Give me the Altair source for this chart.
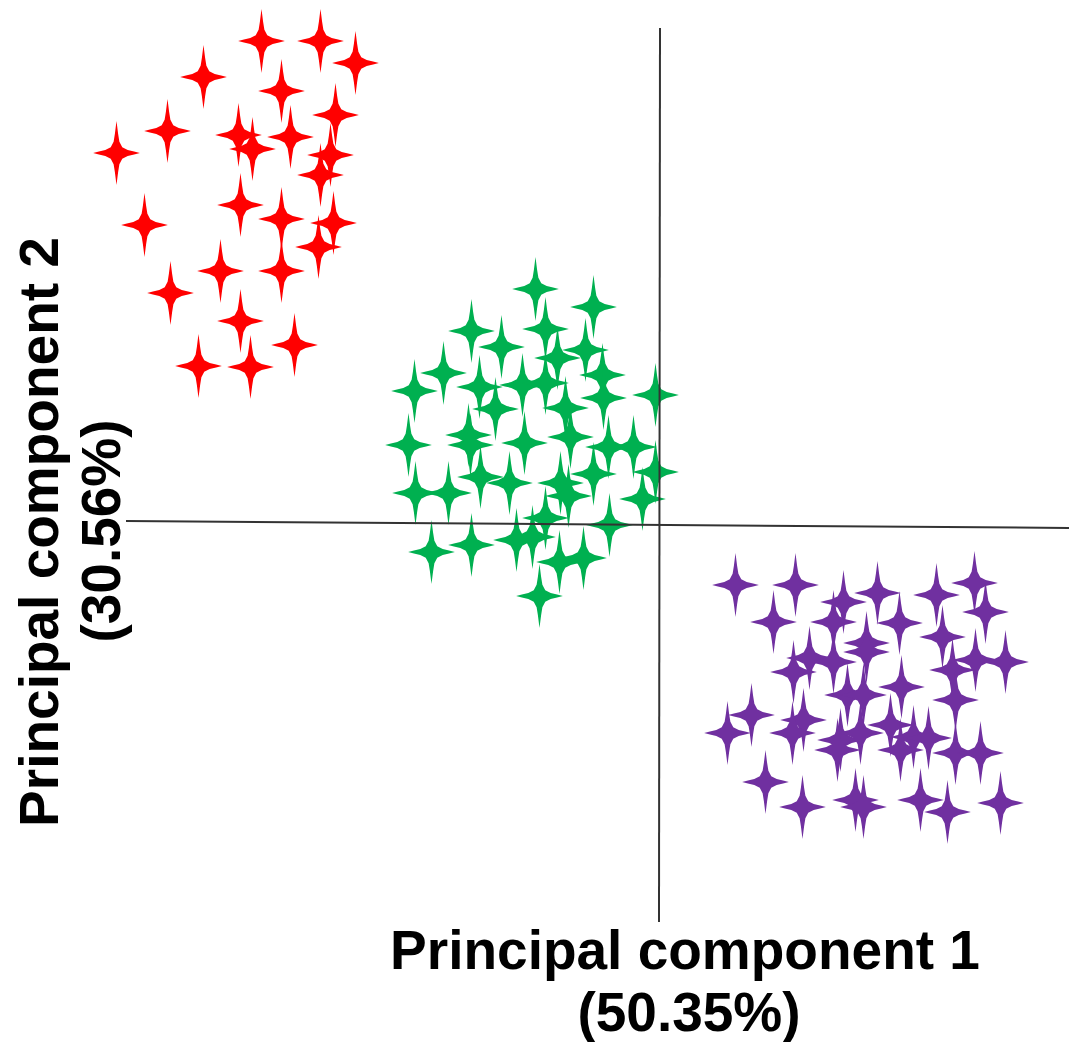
import altair as alt
import pandas as pd

# Principal component scores (1 unit = 100 px)
red_x = [-3.98, -3.39, -3.04, -4.56, -3.78, -3.24, -4.92, -4.21, -4.07, -3.69, -5.43, -3.29, -3.39,
         -4.19, -3.78, -3.26, -5.15, -3.41, -4.39, -3.78, -4.89, -4.19, -3.65, -4.61, -4.09]
red_y = [4.82, 4.82, 4.60, 4.46, 4.32, 4.08, 3.92, 3.88, 3.74, 3.86, 3.70, 3.68, 3.48,
         3.18, 3.04, 3.00, 2.98, 2.76, 2.52, 2.52, 2.30, 2.02, 1.78, 1.57, 1.56]

green_x = [-1.24, -0.66, -1.88, -1.14, -1.58, -1.02, -0.74, -2.16, -0.57, -2.45, -1.80, -1.37, -1.14,
           -0.04, -0.56, -1.64, -0.94, -1.91, -1.89, -1.35, -0.89, -2.51, -0.51, -0.26, -0.04, -0.66,
           -1.79, -1.50, -0.99, -2.44, -2.11, -0.91, -0.17, -1.14, -0.50, -1.43, -1.27, -1.88, -2.28,
           -1.00, -0.76, -1.20]
green_y = [2.34, 2.16, 1.92, 1.94, 1.76, 1.65, 1.73, 1.50, 1.48, 1.32, 1.36, 1.38, 1.40,
           1.28, 1.25, 1.14, 1.15, 0.88, 0.78, 0.80, 0.86, 0.78, 0.76, 0.76, 0.51, 0.49,
           0.46, 0.40, 0.40, 0.30, 0.30, 0.27, 0.24, 0.05, -0.02, -0.17, -0.14, -0.22, -0.29,
           -0.39, -0.35, -0.73]

purple_x = [0.76, 1.36, 1.84, 2.18, 2.77, 3.15, 1.14, 1.74, 2.40, 3.26, 2.83, 2.07, 2.07,
            1.50, 1.74, 1.34, 3.16, 3.46, 2.93, 2.42, 1.88, 2.04, 2.96, 0.92, 1.44, 0.68,
            1.33, 2.31, 2.54, 2.69, 1.81, 2.01, 1.78, 2.41, 2.96, 3.21, 1.06, 1.96, 2.04,
            2.61, 1.43, 2.88, 3.41]
purple_y = [-0.62, -0.62, -0.79, -0.70, -0.72, -0.60, -0.99, -0.99, -1.00, -0.89, -1.14, -1.20, -1.29,
            -1.35, -1.39, -1.49, -1.37, -1.39, -1.47, -1.64, -1.72, -1.72, -1.77, -1.92, -1.97, -2.10,
            -2.10, -2.02, -2.14, -2.15, -2.17, -2.10, -2.27, -2.27, -2.30, -2.30, -2.59, -2.77, -2.84,
            -2.77, -2.84, -2.89, -2.80]

groups = ["Group 1", "Group 2", "Group 3"]
colors = ["#FF0000", "#00B050", "#7030A0"]

x_title = ["Principal component 1", "(50.35%)"]
y_title = ["Principal component 2", "(30.56%)"]

rows = []
for g, xs_, ys_ in zip(groups, [red_x, green_x, purple_x], [red_y, green_y, purple_y]):
    for a, b in zip(xs_, ys_):
        rows.append({"group": g, "pc1": a, "pc2": b})
df = pd.DataFrame(rows)

W, H = 1061, 1034
XMIN, XMAX = -6.515, -6.515 + W / 100
YMAX = 5.15
YMIN = YMAX - H / 100

xs = alt.Scale(domain=[XMIN, XMAX], nice=False, zero=False)
ys = alt.Scale(domain=[YMIN, YMAX], nice=False, zero=False)

STAR = ("M0,-1 L0.05,-0.6 L0.09,-0.35 L0.18,-0.18 L0.35,-0.09 L0.55,-0.05 L0.73,0 "
        "L0.55,0.05 L0.35,0.09 L0.18,0.18 L0.09,0.35 L0.05,0.6 L0,1 "
        "L-0.05,0.6 L-0.09,0.35 L-0.18,0.18 L-0.35,0.09 L-0.55,0.05 L-0.73,0 "
        "L-0.55,-0.05 L-0.35,-0.09 L-0.18,-0.18 L-0.09,-0.35 L-0.05,-0.6 Z")

points = alt.Chart(df).mark_point(
    shape=STAR, filled=True, size=4096, opacity=1, strokeWidth=0
).encode(
    x=alt.X("pc1:Q", scale=xs, axis=None),
    y=alt.Y("pc2:Q", scale=ys, axis=None),
    color=alt.Color("group:N", scale=alt.Scale(domain=groups, range=colors), legend=None),
)

hline_df = pd.DataFrame({"x": [-5.335], "x2": [XMAX], "y": [0.02], "y2": [-0.05]})
vline_df = pd.DataFrame({"x": [0.005], "x2": [-0.005], "y": [4.95], "y2": [-3.99]})

hline = alt.Chart(hline_df).mark_rule(color="#333333", strokeWidth=2).encode(
    x=alt.X("x:Q", scale=xs, axis=None), x2="x2:Q",
    y=alt.Y("y:Q", scale=ys, axis=None), y2="y2:Q",
)
vline = alt.Chart(vline_df).mark_rule(color="#333333", strokeWidth=2).encode(
    x=alt.X("x:Q", scale=xs, axis=None), x2="x2:Q",
    y=alt.Y("y:Q", scale=ys, axis=None), y2="y2:Q",
)

xt_df = pd.DataFrame({"t": x_title, "px": [677, 681], "py": [961, 1023]})
yt_df = pd.DataFrame({"t": y_title, "px": [50, 112], "py": [524, 523]})

font = dict(font="Liberation Sans", fontSize=55, fontWeight="bold", color="#000000",
            align="center", baseline="alphabetic")

xtitle = alt.Chart(xt_df).mark_text(**font).encode(
    x=alt.X("px:Q", scale=None, axis=None),
    y=alt.Y("py:Q", scale=None, axis=None),
    text="t:N",
)
ytitle = alt.Chart(yt_df).mark_text(angle=270, **font).encode(
    x=alt.X("px:Q", scale=None, axis=None),
    y=alt.Y("py:Q", scale=None, axis=None),
    text="t:N",
)

chart = alt.layer(points, hline, vline, xtitle, ytitle).resolve_scale(
    x="independent", y="independent"
).properties(
    width=W, height=H, padding=0, autosize="none"
).configure_view(stroke=None)

chart.save("out.html", embed_options={"renderer": "svg", "actions": False})
